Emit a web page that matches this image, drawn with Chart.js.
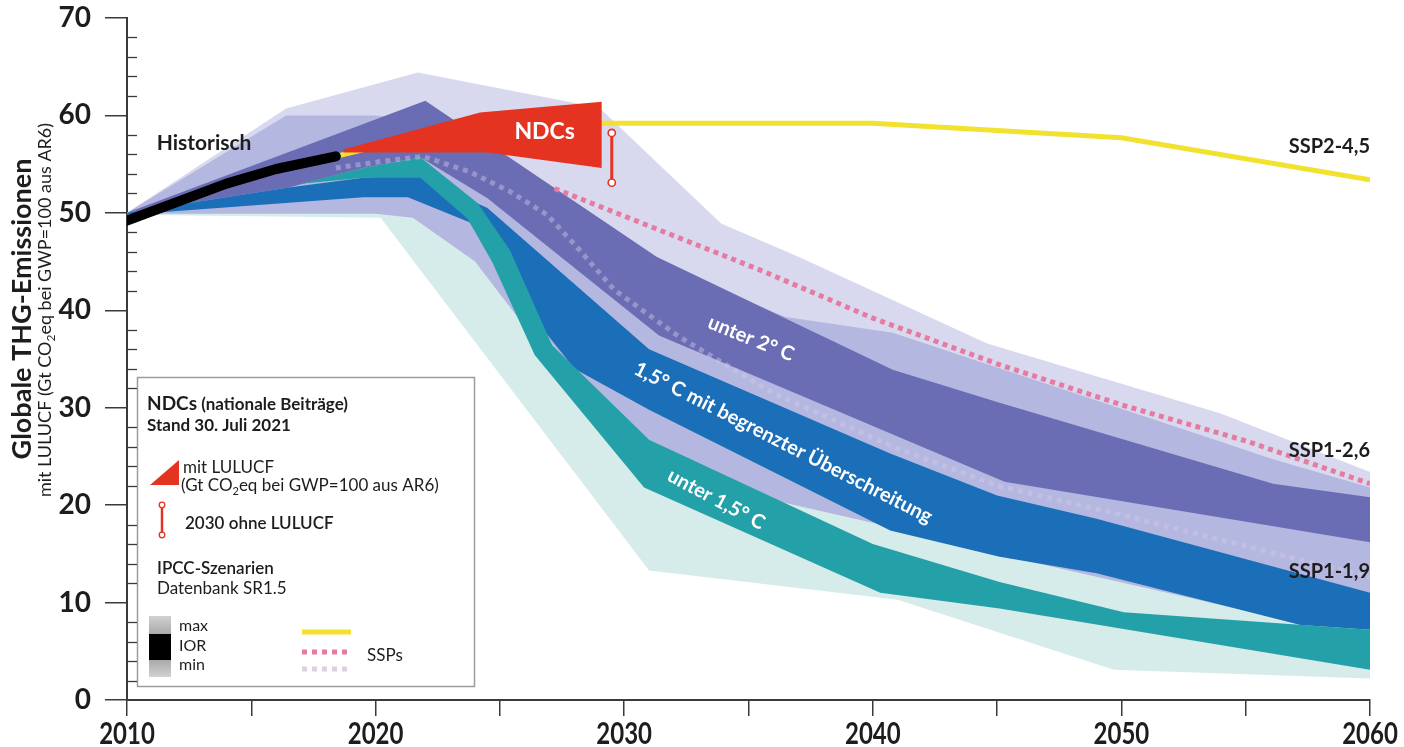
<!DOCTYPE html>
<html>
<head>
<meta charset="utf-8">
<script src="https://cdn.jsdelivr.net/npm/chart.js@4.4.1/dist/chart.umd.min.js"></script>
<style>
  html, body { margin: 0; padding: 0; background: #ffffff; }
  canvas { display: block; }
</style>
</head>
<body>
<canvas id="chart" width="1404" height="747"></canvas>
<script>
// ---- axis ticks ----
const yearLabels = [2010, 2020, 2030, 2040, 2050, 2060];
const emissionSteps = [0, 10, 20, 30, 40, 50, 60, 70];

// ---- historical emissions, Gt CO2eq ----
const historisch = [[2010, 49.2], [2012, 51.1], [2014, 53.0], [2016, 54.5], [2018.4, 55.8]];

// ---- SSP pathways ----
const ssp245 = [[2018.4, 55.8], [2019.7, 56.6], [2029.1, 59.2], [2040, 59.2], [2050, 57.7], [2060, 53.4]];
const ssp126 = [[2027.2, 52.5], [2035.5, 44.1], [2040, 39.2], [2045, 34.5], [2050, 30.3], [2055, 26.6], [2060, 22.2]];
const ssp119 = [[2018.4, 54.6], [2020, 55.2], [2021.9, 55.8], [2023.8, 54.2], [2025.4, 52.2], [2026.9, 49.8],
                [2028.2, 46.2], [2029.6, 42.1], [2032.2, 37.3], [2036, 31.5], [2041, 25.8], [2045, 22.0],
                [2050, 19.0], [2055, 15.8], [2060, 12.6]];

// ---- NDCs (with LULUCF) and 2030 range without LULUCF ----
const ndcUpper = [[2018.7, 56.5], [2024.2, 60.3], [2029.1, 61.4]];
const ndcLower = [[2018.7, 56.2], [2024.5, 56.2], [2029.1, 54.6]];
const ndc2030Year = 2029.5;
const ndc2030Range = [53.1, 58.2];

// ---- IPCC SR1.5 scenario ranges: min–max ----
const under2MaxMin_upper = [[2010, 50], [2016.4, 60.7], [2021.7, 64.4], [2029, 60.8], [2033.9, 48.9], [2037.1, 45.4],
                            [2044.6, 36.6], [2054, 29.4], [2060, 23.4]];
const under2MaxMin_lower = [[2010, 50], [2020, 50], [2031, 30], [2041, 20], [2060, 10]];

const overshootMaxMin_upper = [[2010, 50], [2016.4, 60], [2020, 60], [2022, 59.5], [2030, 46], [2036.5, 39.3],
                               [2040.8, 37.7], [2054, 26.5], [2056, 24.8], [2060, 21.8]];
const overshootMaxMin_lower = [[2010, 49.9], [2020, 49.9], [2021.5, 49.5], [2024, 45], [2027, 35], [2029, 28.5],
                               [2031, 26.7], [2036, 20.5], [2041, 17.6], [2045.1, 14.9], [2057.2, 7.9], [2060, 7.4]];

const under15MaxMin_upper = [[2010, 50], [2020, 50.5], [2024, 48], [2031, 30], [2036, 23], [2041, 19], [2045, 16],
                             [2057, 9], [2060, 8.5]];
const under15MaxMin_lower = [[2010, 49.8], [2020.2, 49.5], [2031, 13.3], [2041, 10.3], [2049.7, 3.1], [2060, 2.2]];

// ---- IPCC SR1.5 scenario ranges: interquartile ----
const under2IQR_upper = [[2010, 50], [2022, 61.5], [2031.3, 45.5], [2040.8, 33.9], [2045.1, 30.5], [2056.1, 22.2], [2060, 20.8]];
const under2IQR_lower = [[2010, 50], [2016.5, 52.6], [2019.5, 54.6], [2021.8, 55.7], [2024.5, 51.5], [2031.4, 37.4],
                         [2045.3, 22.4], [2060, 16.2]];

const overshootIQR_upper = [[2010, 50], [2016.5, 52.6], [2019.5, 53.6], [2021.6, 53.9], [2024.5, 50.5], [2031, 36.0],
                            [2040.7, 25.3], [2045, 21.0], [2049, 18.6], [2060, 11.0]];
const overshootIQR_lower = [[2010, 49.8], [2019.5, 51.6], [2021.3, 51.6], [2023.8, 49.0], [2025.5, 42.0], [2028, 34.0],
                            [2031, 29.8], [2040.7, 17.4], [2045.1, 14.7], [2049, 13.0], [2057.2, 7.7], [2060, 7.2]];

const under15IQR_upper = [[2017, 53.0], [2019.5, 54.6], [2021.8, 55.7], [2024.1, 51.0], [2025.4, 46.2], [2027.1, 36.4],
                          [2031, 26.7], [2040, 16.0], [2045.1, 12.1], [2050.1, 9.0], [2060, 7.2]];
const under15IQR_lower = [[2017, 53.0], [2019.5, 53.6], [2021.8, 53.6], [2023.7, 49.4], [2024.7, 44.9], [2026.4, 35.4],
                          [2030.8, 21.8], [2040.3, 11.0], [2045.1, 9.4], [2060, 3.1]];

// ---- colours ----
const C = {
  under2Range: '#d8d9ef',
  overshootRange: '#b4b7df',
  under15Range: '#d5ecea',
  under2: '#6a6db3',
  overshoot: '#1a6fb8',
  under15: '#24a0a8',
  ndc: '#e43421',
  ssp245: '#f1e22f',
  ssp126: '#e67ba2',
  ssp119: 'rgba(214,200,236,0.42)',
  ssp119Key: '#ddcfe6',
  ink: '#1e1c1d',
  axis: '#3a3a3a'
};

const FONT = 'Lato, "Noto Sans", sans-serif';

// ---- text anchors (data coordinates) ----
const textAnchors = {
  historisch: { x: 2013.1, y: 57.1 },
  ndcs: { x: 2026.8, y: 58.3 },
  ssp245: { x: 2060, y: 56.8 },
  ssp126: { x: 2060, y: 25.6 },
  ssp119: { x: 2060, y: 13.2 },
  under2: { x: 2035.1, y: 37.1, angle: 22 },
  overshoot: { x: 2036.4, y: 26.4, angle: 27 },
  under15: { x: 2033.7, y: 20.6, angle: 28 }
};

function pts(arr) { return arr.map(p => ({ x: p[0], y: p[1] })); }

const datasets = [];
const hidden = 'rgba(0,0,0,0)';

function band(upper, lower, color, order) {
  datasets.push({ data: pts(upper), fill: '+1', backgroundColor: color, borderColor: hidden,
                  borderWidth: 0, pointRadius: 0, order });
  datasets.push({ data: pts(lower), fill: false, borderColor: hidden, borderWidth: 0, pointRadius: 0, order });
}
function line(data, color, width, order, extra) {
  datasets.push(Object.assign({ data: pts(data), fill: false, borderColor: color, borderWidth: width,
                  pointRadius: 0, order }, extra || {}));
}

// drawn bottom (high order) to top (low order)
band(under2MaxMin_upper, under2MaxMin_lower, C.under2Range, 20);
band(under15MaxMin_upper, under15MaxMin_lower, C.under15Range, 19);
band(overshootMaxMin_upper, overshootMaxMin_lower, C.overshootRange, 18);
band(under2IQR_upper, under2IQR_lower, C.under2, 17);
band(overshootIQR_upper, overshootIQR_lower, C.overshoot, 16);
band(under15IQR_upper, under15IQR_lower, C.under15, 15);
line(ssp119, C.ssp119, 5, 10, { borderDash: [5, 5] });
line(ssp126, C.ssp126, 5, 9, { borderDash: [5, 4.5] });
line(ssp245, C.ssp245, 5, 8);
band(ndcUpper, ndcLower, C.ndc, 6);
line(ndc2030Range.map(v => [ndc2030Year, v]), C.ndc, 3, 5, {
  pointRadius: 3.6, pointBackgroundColor: '#ffffff', pointBorderColor: C.ndc, pointBorderWidth: 1.6
});
line(historisch, '#000000', 10, 1, { borderCapStyle: 'round', borderJoinStyle: 'round' });

// ---- rich text helpers ----
function drawRich(ctx, parts, x, y, align) {
  let w = 0;
  for (const p of parts) { ctx.font = p.font; w += ctx.measureText(p.text).width; }
  let cx = align === 'center' ? x - w / 2 : (align === 'right' ? x - w : x);
  ctx.textAlign = 'left';
  for (const p of parts) {
    ctx.font = p.font;
    ctx.fillText(p.text, cx, y + (p.dy || 0));
    cx += ctx.measureText(p.text).width;
  }
}

// minor ticks, x labels, axis title
const axisDecor = {
  id: 'axisDecor',
  afterDraw(chart) {
    const ctx = chart.ctx, xs = chart.scales.x, ys = chart.scales.y;
    const left = chart.chartArea.left;
    ctx.save();
    ctx.strokeStyle = C.axis;
    ctx.lineWidth = 1.3;
    for (let v = ys.min + 2; v < ys.max; v += 2) {
      if (v % 10 === 0) continue;
      const py = Math.round(ys.getPixelForValue(v)) + 0.5;
      ctx.beginPath(); ctx.moveTo(left, py); ctx.lineTo(left + 10, py); ctx.stroke();
    }
    ctx.fillStyle = C.ink;
    ctx.textBaseline = 'alphabetic';
    ctx.textAlign = 'center';
    ctx.font = 'bold 30px ' + FONT;
    for (const yr of yearLabels) {
      ctx.save();
      ctx.translate(xs.getPixelForValue(yr), 744);
      ctx.scale(0.8, 1);
      ctx.fillText(String(yr), 0, 0);
      ctx.restore();
    }
    // rotated axis title
    ctx.save();
    ctx.translate(31, 309);
    ctx.rotate(-Math.PI / 2);
    drawRich(ctx, [{ text: 'Globale THG-Emissionen', font: 'bold 27px ' + FONT }], 0, 0, 'center');
    ctx.restore();
    ctx.save();
    ctx.translate(51, 310);
    ctx.rotate(-Math.PI / 2);
    drawRich(ctx, [
      { text: 'mit LULUCF (Gt CO', font: '18px ' + FONT },
      { text: '2', font: '12px ' + FONT, dy: 4 },
      { text: 'eq bei GWP=100 aus AR6)', font: '18px ' + FONT }
    ], 0, 0, 'center');
    ctx.restore();
    ctx.restore();
  }
};

// series labels and key box
const annotations = {
  id: 'annotations',
  afterDatasetsDraw(chart) {
    const ctx = chart.ctx, xs = chart.scales.x, ys = chart.scales.y;
    const P = a => [xs.getPixelForValue(a.x), ys.getPixelForValue(a.y)];
    ctx.save();
    ctx.textBaseline = 'middle';

    let [x, y] = P(textAnchors.historisch);
    ctx.fillStyle = C.ink; ctx.textAlign = 'center'; ctx.font = 'bold 21px ' + FONT;
    ctx.fillText('Historisch', x, y);

    [x, y] = P(textAnchors.ndcs);
    ctx.fillStyle = '#ffffff'; ctx.font = 'bold 23px ' + FONT;
    ctx.fillText('NDCs', x, y);

    ctx.fillStyle = C.ink; ctx.textAlign = 'right'; ctx.font = 'bold 20px ' + FONT;
    [x, y] = P(textAnchors.ssp245); ctx.fillText('SSP2-4,5', x, y);
    [x, y] = P(textAnchors.ssp126); ctx.fillText('SSP1-2,6', x, y);
    [x, y] = P(textAnchors.ssp119); ctx.fillText('SSP1-1,9', x, y);

    const rotated = (a, text) => {
      const [px, py] = P(a);
      ctx.save();
      ctx.translate(px, py);
      ctx.rotate(a.angle * Math.PI / 180);
      ctx.fillStyle = '#ffffff'; ctx.textAlign = 'center'; ctx.font = 'bold 20px ' + FONT;
      ctx.fillText(text, 0, 0);
      ctx.restore();
    };
    rotated(textAnchors.under2, 'unter 2° C');
    rotated(textAnchors.overshoot, '1,5° C mit begrenzter Überschreitung');
    rotated(textAnchors.under15, 'unter 1,5° C');

    // key box
    ctx.textBaseline = 'alphabetic';
    ctx.fillStyle = '#ffffff';
    ctx.fillRect(137, 377, 338, 310);
    ctx.strokeStyle = '#9c9c9c'; ctx.lineWidth = 1.5;
    ctx.strokeRect(137.5, 377.5, 337, 309);

    ctx.fillStyle = C.ink;
    drawRich(ctx, [
      { text: 'NDCs', font: 'bold 19px ' + FONT },
      { text: ' (nationale Beiträge)', font: 'bold 17px ' + FONT }
    ], 147, 410, 'left');
    ctx.font = 'bold 17px ' + FONT;
    ctx.fillText('Stand 30. Juli 2021', 147, 431);

    ctx.fillStyle = C.ndc;
    ctx.beginPath(); ctx.moveTo(150, 485); ctx.lineTo(179, 460); ctx.lineTo(179, 485); ctx.closePath(); ctx.fill();

    ctx.fillStyle = C.ink;
    ctx.font = '17px ' + FONT;
    ctx.fillText('mit LULUCF', 183, 473);
    drawRich(ctx, [
      { text: '(Gt CO', font: '17px ' + FONT },
      { text: '2', font: '11px ' + FONT, dy: 4 },
      { text: 'eq bei GWP=100 aus AR6)', font: '17px ' + FONT }
    ], 181, 491, 'left');

    ctx.strokeStyle = C.ndc; ctx.lineWidth = 2.5;
    ctx.beginPath(); ctx.moveTo(162, 505); ctx.lineTo(162, 535); ctx.stroke();
    ctx.fillStyle = '#ffffff'; ctx.lineWidth = 1.3;
    for (const cy of [505, 535]) { ctx.beginPath(); ctx.arc(162, cy, 2.8, 0, Math.PI * 2); ctx.fill(); ctx.stroke(); }

    ctx.fillStyle = C.ink;
    ctx.font = '600 17px ' + FONT;
    ctx.fillText('2030 ohne LULUCF', 185, 529);
    ctx.fillText('IPCC-Szenarien', 157, 574);
    ctx.font = '17px ' + FONT;
    ctx.fillText('Datenbank SR1.5', 157, 594);

    // range key: max / interquartile / min
    let g = ctx.createLinearGradient(0, 616, 0, 634);
    g.addColorStop(0, '#d2d2d2'); g.addColorStop(1, '#a9a9a9');
    ctx.fillStyle = g; ctx.fillRect(149, 616, 22, 18);
    ctx.fillStyle = '#000000'; ctx.fillRect(149, 634, 22, 26);
    g = ctx.createLinearGradient(0, 660, 0, 677);
    g.addColorStop(0, '#a9a9a9'); g.addColorStop(1, '#d2d2d2');
    ctx.fillStyle = g; ctx.fillRect(149, 660, 22, 17);

    ctx.fillStyle = C.ink; ctx.font = '16px ' + FONT;
    ctx.fillText('max', 179, 631);
    ctx.fillText('IOR', 179, 651);
    ctx.fillText('min', 179, 670);

    ctx.lineWidth = 5;
    ctx.strokeStyle = C.ssp245;
    ctx.beginPath(); ctx.moveTo(302, 632); ctx.lineTo(351, 632); ctx.stroke();
    ctx.setLineDash([5, 5]);
    ctx.strokeStyle = C.ssp126;
    ctx.beginPath(); ctx.moveTo(302, 652); ctx.lineTo(351, 652); ctx.stroke();
    ctx.strokeStyle = C.ssp119Key;
    ctx.beginPath(); ctx.moveTo(302, 669); ctx.lineTo(351, 669); ctx.stroke();
    ctx.setLineDash([]);
    ctx.fillStyle = C.ink; ctx.font = '17px ' + FONT;
    ctx.fillText('SSPs', 367, 661);

    ctx.restore();
  }
};

Chart.defaults.font.family = FONT;

new Chart(document.getElementById('chart'), {
  type: 'line',
  data: { datasets },
  options: {
    responsive: false,
    animation: false,
    devicePixelRatio: 1,
    events: [],
    layout: { padding: { top: 18, right: 34, left: 0, bottom: 0 } },
    elements: { line: { tension: 0 } },
    plugins: { legend: { display: false }, tooltip: { enabled: false } },
    scales: {
      x: {
        type: 'linear', min: 2010, max: 2060,
        afterFit(s) { s.height = 47; s.paddingLeft = 0; s.paddingRight = 0; },
        ticks: { stepSize: 5, display: false },
        grid: { drawOnChartArea: false, drawTicks: true, tickLength: 16, color: C.axis, lineWidth: 1.5 },
        border: { display: true, color: C.axis, width: 2 }
      },
      y: {
        type: 'linear', min: emissionSteps[0], max: emissionSteps[emissionSteps.length - 1],
        afterFit(s) { s.width = 127; s.paddingTop = 0; s.paddingBottom = 0; },
        ticks: { stepSize: 10, padding: 14, color: C.ink, font: { family: FONT, weight: 'bold', size: 28 } },
        grid: { drawOnChartArea: false, drawTicks: true, tickLength: 22, color: C.axis, lineWidth: 1.5 },
        border: { display: true, color: C.axis, width: 2 }
      }
    }
  },
  plugins: [annotations, axisDecor]
});
</script>
</body>
</html>
